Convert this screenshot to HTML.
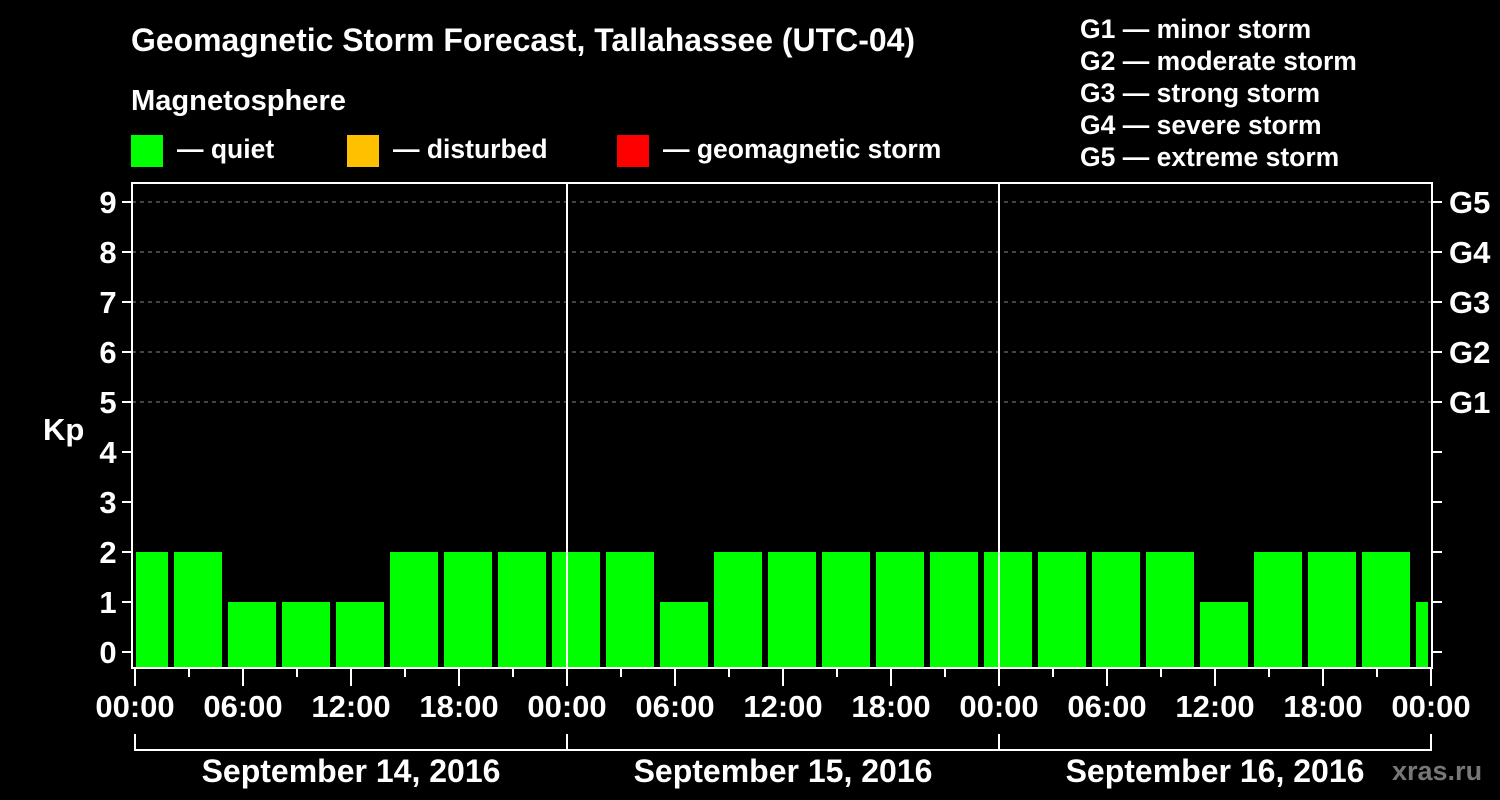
<!DOCTYPE html>
<html><head><meta charset="utf-8"><style>
html,body{margin:0;padding:0;background:#000;width:1500px;height:800px;overflow:hidden}
svg text{font-family:"Liberation Sans",sans-serif;font-weight:bold;fill:#fff}
</style></head><body>
<svg width="1500" height="800" xmlns="http://www.w3.org/2000/svg">
<rect width="1500" height="800" fill="#000"/>
<text x="131" y="51" font-size="32" textLength="784" lengthAdjust="spacingAndGlyphs">Geomagnetic Storm Forecast, Tallahassee (UTC-04)</text>
<text x="131" y="110" font-size="29" textLength="215" lengthAdjust="spacingAndGlyphs">Magnetosphere</text>
<rect x="131" y="135" width="32" height="32" fill="#00ff00"/>
<text x="177" y="158" font-size="26.5">— quiet</text>
<rect x="347" y="135" width="32" height="32" fill="#ffc000"/>
<text x="393" y="158" font-size="26.5">— disturbed</text>
<rect x="617" y="135" width="32" height="32" fill="#ff0000"/>
<text x="663" y="158" font-size="26.5">— geomagnetic storm</text>
<g font-size="26.5">
<text x="1080" y="38">G1 — minor storm</text>
<text x="1080" y="70">G2 — moderate storm</text>
<text x="1080" y="102">G3 — strong storm</text>
<text x="1080" y="134">G4 — severe storm</text>
<text x="1080" y="166">G5 — extreme storm</text>
</g>
<g stroke="#888" stroke-dasharray="4,4" stroke-width="1">
<line x1="132" x2="1432" y1="202" y2="202"/><line x1="132" x2="1432" y1="252" y2="252"/>
<line x1="132" x2="1432" y1="302" y2="302"/><line x1="132" x2="1432" y1="352" y2="352"/>
<line x1="132" x2="1432" y1="402" y2="402"/>
</g>
<g fill="#00ff00" id="bars"></g>
<g stroke="#fff" stroke-width="2" fill="none">
<rect x="132" y="183" width="1300" height="485"/>
<line x1="567" y1="183" x2="567" y2="668"/><line x1="999" y1="183" x2="999" y2="668"/>
<path d="M135 734V750H1431V734M567 734V750M999 734V750"/>
</g>
<g id="ticks" stroke="#fff" stroke-width="2"></g>
<g font-size="31" id="lab"></g>
<text x="43" y="440" font-size="31">Kp</text>
<g font-size="32" text-anchor="middle">
<text x="351" y="782">September 14, 2016</text>
<text x="783" y="782">September 15, 2016</text>
<text x="1215" y="782">September 16, 2016</text>
</g>
<text x="1392" y="780" font-size="27" style="fill:#777">xras.ru</text>
</svg>
<script>
var ns="http://www.w3.org/2000/svg";
function el(p,t,a,txt){var e=document.createElementNS(ns,t);for(var k in a)e.setAttribute(k,a[k]);if(txt)e.textContent=txt;document.getElementById(p).appendChild(e);}
var v=[2,2,1,1,1,2,2,2,2,2,1,2,2,2,2,2,2,2,2,2,1,2,2,2,1];
for(var i=0;i<v.length;i++){var h=-1+3*i;var x0=135+18*h+3,x1=x0+48;x0=Math.max(x0,136);x1=Math.min(x1,1428);
var y=652-50*v[i];el("bars","rect",{x:x0,y:y,width:x1-x0,height:667-y});}
for(var k=0;k<=9;k++){var y=652-50*k;el("ticks","line",{x1:122,x2:132,y1:y,y2:y});el("ticks","line",{x1:1432,x2:1442,y1:y,y2:y});
el("lab","text",{x:108,y:y+11,"text-anchor":"middle"},""+k);}
var g=["G1","G2","G3","G4","G5"];for(var k=0;k<5;k++){el("lab","text",{x:1449,y:652-50*(5+k)+11},g[k]);}
var L=["00:00","06:00","12:00","18:00"];
for(var hh=0;hh<=72;hh+=3){var x=135+18*hh;var maj=hh%6==0;el("ticks","line",{x1:x,x2:x,y1:669,y2:maj?686:677});
if(maj)el("lab","text",{x:x,y:717,"text-anchor":"middle"},L[(hh/6)%4]);}
</script>
</body></html>
